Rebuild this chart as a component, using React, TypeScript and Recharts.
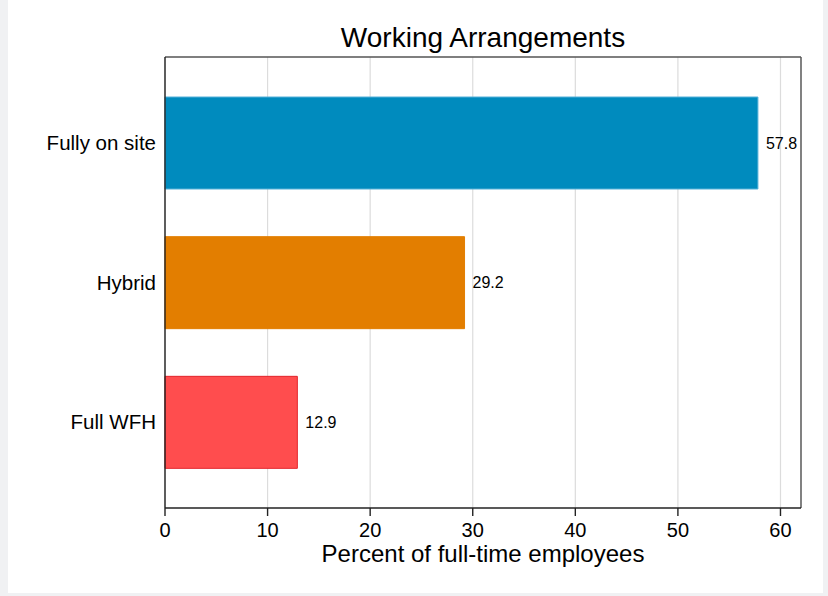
import React from "react";
import {
  BarChart,
  Bar,
  XAxis,
  YAxis,
  CartesianGrid,
  Cell,
  LabelList,
} from "recharts";

const categories = ["Fully on site", "Hybrid", "Full WFH"];
const values = [57.8, 29.2, 12.9];
const fills = ["#008bbe", "#e37e00", "#ff4d4e"];
const strokes = ["#55b0d8", "#e37e00", "#e3232b"];
const xTicks = [0, 10, 20, 30, 40, 50, 60];
const xMin = 0;
const xMax = 62;
const title = "Working Arrangements";
const xTitle = "Percent of full-time employees";

const data = categories.map((c, i) => ({ category: c, value: values[i] }));

const MARGIN = { top: 57, right: 27, bottom: 0, left: 0 };
const Y_AXIS_W = 165;
const W = 828;
const H = 596;

export default function App() {
  const plotCenter = MARGIN.left + Y_AXIS_W + (W - MARGIN.left - Y_AXIS_W - MARGIN.right) / 2;
  return (
    <div
      style={{
        position: "fixed",
        left: 0,
        top: 0,
        width: W,
        height: H,
        background: "#f0f1f3",
        fontFamily: "'Liberation Sans', Arial, Helvetica, sans-serif",
      }}
    >
      <div
        style={{
          position: "absolute",
          left: 8,
          top: 0,
          width: 815,
          height: 593,
          background: "#ffffff",
        }}
      />
      <div style={{ position: "absolute", left: 0, top: 0 }}>
        <BarChart
          layout="vertical"
          width={W}
          height={H}
          data={data}
          margin={MARGIN}
        >
          <CartesianGrid horizontal={false} stroke="#dcdcdc" strokeWidth={1.2} />
          <CartesianGrid
            stroke="#555"
            strokeWidth={1.4}
            horizontalCoordinatesGenerator={(p: any) => [p.offset.top]}
            verticalCoordinatesGenerator={(p: any) => [p.offset.left + p.offset.width]}
          />
          <XAxis
            type="number"
            domain={[xMin, xMax]}
            ticks={xTicks}
            height={88}
            tickSize={8}
            tickMargin={7}
            stroke="#222"
            strokeWidth={1.4}
            tick={{ fontSize: 20, fill: "#000" }}
            label={{
              value: xTitle,
              position: "insideBottom",
              offset: 34,
              fontSize: 24,
              fill: "#000",
            }}
          />
          <YAxis
            type="category"
            dataKey="category"
            width={Y_AXIS_W}
            tickLine={false}
            tickSize={9}
            tickMargin={0}
            stroke="#222"
            strokeWidth={1.4}
            padding={{ top: 16, bottom: 16 }}
            tick={{ fontSize: 20.5, fill: "#000" }}
          />
          <Bar dataKey="value" barSize={92} isAnimationActive={false}>
            {data.map((d, i) => (
              <Cell key={d.category} fill={fills[i]} stroke={strokes[i]} strokeWidth={1} />
            ))}
            <LabelList
              dataKey="value"
              position="right"
              offset={8}
              style={{ fontSize: 16, fill: "#000" }}
            />
          </Bar>
        </BarChart>
      </div>
      <svg
        width={W}
        height={MARGIN.top}
        style={{ position: "absolute", left: 0, top: 0, pointerEvents: "none" }}
      >
        <text x={plotCenter} y={47} textAnchor="middle" fontSize={28} fill="#000">
          {title}
        </text>
      </svg>
    </div>
  );
}
